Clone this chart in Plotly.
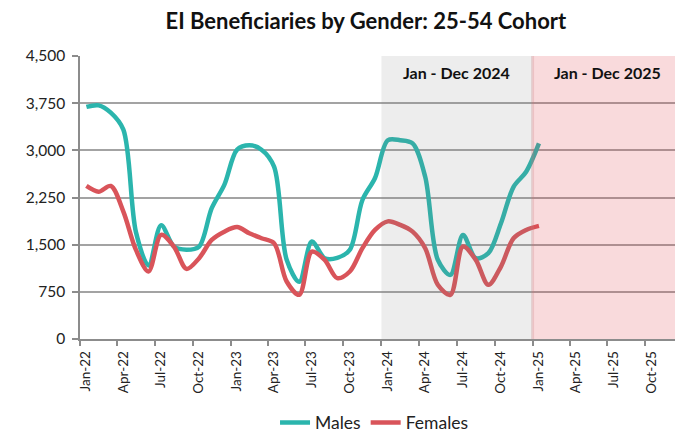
import plotly.graph_objects as go
import pandas as pd

months = pd.date_range("2022-01-01", "2025-01-01", freq="MS")
males = [3690, 3715, 3600, 3330, 1700, 1170, 1810, 1470, 1420, 1470, 2080, 2450,
         3010, 3080, 3010, 2740, 1260, 910, 1550, 1285, 1290, 1420, 2210, 2560,
         3160, 3160, 3110, 2580, 1260, 1020, 1655, 1285, 1365, 1840, 2420, 2660,
         3110]
females = [2433, 2342, 2433, 2025, 1417, 1075, 1655, 1470, 1115, 1285, 1576, 1707,
           1780, 1682, 1602, 1523, 914, 703, 1390, 1258, 968, 1073, 1444, 1734,
           1870, 1814, 1707, 1444, 862, 703, 1470, 1258, 862, 1152, 1602, 1734,
           1798]
y_ticks = [0, 750, 1500, 2250, 3000, 3750, 4500]
periods = [("2024-01-01", "2025-01-01", "Jan - Dec 2024", "rgba(128,128,128,0.14)"),
           ("2025-01-01", "2026-01-01", "Jan - Dec 2025", "rgba(222,60,70,0.19)")]

FONT = "Lato, 'Open Sans', sans-serif"
fig = go.Figure()
fig.add_trace(go.Scatter(x=months, y=males, name="Males", mode="lines",
                         xperiod="M1", xperiodalignment="middle",
                         line=dict(color="#2bb5ad", width=4.5, shape="spline", smoothing=0.9)))
fig.add_trace(go.Scatter(x=months, y=females, name="Females", mode="lines",
                         xperiod="M1", xperiodalignment="middle",
                         line=dict(color="#d9545a", width=4.5, shape="spline", smoothing=0.9)))

for x0, x1, label, col in periods:
    fig.add_shape(type="rect", xref="x", yref="paper", x0=x0, x1=x1, y0=0, y1=1,
                  fillcolor=col, line_width=0, layer="above")
    mid = pd.Timestamp(x0) + (pd.Timestamp(x1) - pd.Timestamp(x0)) / 2
    fig.add_annotation(x=mid, y=0.943, xref="x", yref="paper", yanchor="middle",
                       text="<b>%s</b>" % label, showarrow=False,
                       font=dict(size=16, color="#111111", family=FONT))
fig.add_shape(type="line", xref="x", yref="paper", x0=periods[1][0], x1=periods[1][0],
              y0=0, y1=1, line=dict(color="rgba(200,120,125,0.25)", width=3), layer="above")

fig.update_layout(
    width=675, height=433,
    margin=dict(l=80, r=0, t=56, b=94, autoexpand=False),
    paper_bgcolor="white", plot_bgcolor="white",
    title=dict(text="<b>EI Beneficiaries by Gender: 25-54 Cohort</b>", x=0.542, xanchor="center",
               y=0.951, yanchor="middle", font=dict(size=22, color="#111111", family=FONT)),
    font=dict(family=FONT, color="#222222"),
    showlegend=True,
    legend=dict(orientation="h", x=0.495, xanchor="center", yref="container", y=0.024,
                yanchor="middle", font=dict(size=17.5, color="#222222", family=FONT), itemwidth=30),
)
fig.update_xaxes(type="date", range=["2022-01-01", "2025-12-12"], tick0="2022-01-01", dtick="M3",
                 tickformat="%b-%y", tickangle=-90, ticks="outside", ticklen=5, tickwidth=1.5,
                 tickcolor="#8c8c8c", showline=True, linecolor="#8c8c8c", linewidth=1.5,
                 showgrid=False, ticklabelshift=6, tickfont=dict(size=13.5, color="#222222"))
fig.update_yaxes(range=[0, 4500], tickvals=y_ticks, tickformat=",", ticks="outside", ticklen=6,
                 tickwidth=1.5, tickcolor="#8c8c8c", showline=True, linecolor="#8c8c8c",
                 linewidth=1.5, showgrid=True, gridcolor="#a3a3a3", gridwidth=1.5,
                 ticklabelstandoff=4, zeroline=False, tickfont=dict(size=15.5, color="#222222"))

fig.write_html("out.html", config={"displayModeBar": False},
               post_script="document.body.style.margin='0';document.body.style.overflow='hidden';")
